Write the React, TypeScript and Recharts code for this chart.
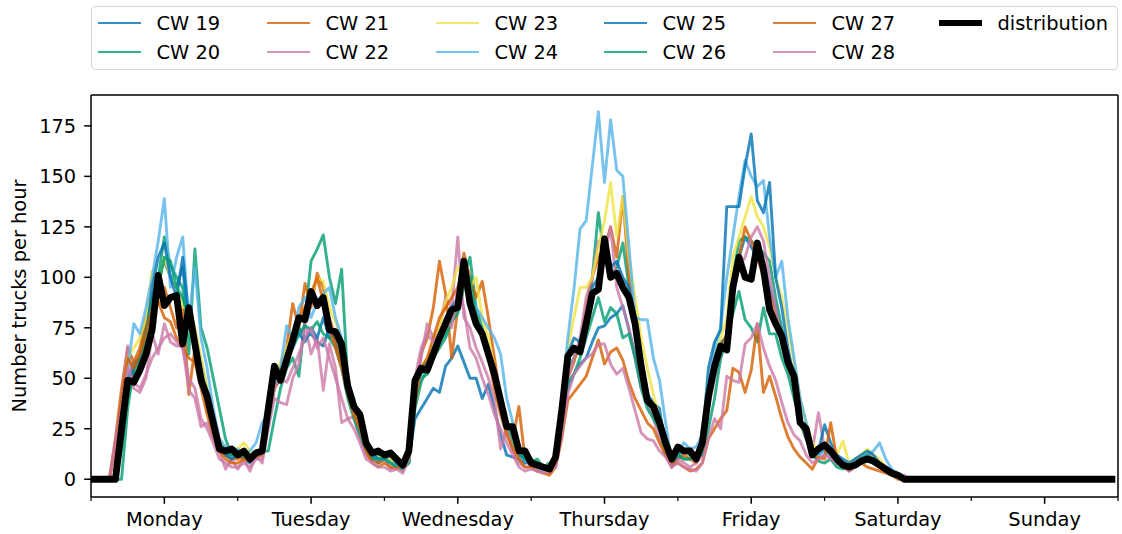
import { LineChart, Line, XAxis, YAxis, ReferenceLine } from 'recharts';

const FONT = '"DejaVu Sans", sans-serif';

const DAYS = ['Monday', 'Tuesday', 'Wednesday', 'Thursday', 'Friday', 'Saturday', 'Sunday'];
const X_TICKS = [0, 12, 24, 36, 48, 60, 72, 84, 96, 108, 120, 132, 144, 156, 168];
const Y_TICKS = [0, 25, 50, 75, 100, 125, 150, 175];
const Y_DOMAIN = [-8.8, 190.3];
const X_DOMAIN = [0, 168];

const SUNDAY = [0, 0, 0, 0, 0, 0, 0, 0, 0, 0, 0, 0, 0, 0, 0, 0, 0, 0, 0, 0, 0, 0, 0, 0];

// hourly values, one line per day (Mon..Sat), Sunday is empty
const CW19 = [
  0, 0, 0, 0, 0, 22, 50, 58, 60, 75, 90, 100, 108, 100, 95, 105, 75, 72, 58, 44, 30, 18, 13, 12,
  12, 10, 8, 12, 14, 30, 48, 55, 62, 66, 75, 70, 72, 68, 66, 75, 68, 60, 45, 35, 28, 15, 10, 8,
  10, 8, 8, 6, 10, 30, 35, 40, 45, 43, 56, 60, 66, 58, 50, 50, 40, 47, 35, 22, 12, 11, 10, 8,
  8, 6, 5, 5, 8, 28, 45, 52, 57, 60, 68, 75, 76, 80, 82, 86, 74, 62, 50, 42, 38, 35, 15, 6,
  10, 14, 12, 10, 18, 40, 60, 68, 70, 95, 110, 120, 115, 110, 108, 95, 85, 72, 60, 50, 30, 22, 14, 12,
  15, 12, 10, 8, 6, 8, 10, 12, 10, 8, 5, 3, 2, 0, 0, 0, 0, 0, 0, 0, 0, 0, 0, 0,
  ...SUNDAY,
];
const CW20 = [
  0, 0, 0, 0, 0, 0, 35, 55, 60, 78, 90, 100, 120, 106, 100, 95, 62, 114, 75, 65, 50, 35, 20, 12,
  12, 10, 12, 10, 14, 14, 30, 45, 55, 60, 51, 80, 108, 114, 121, 100, 87, 104, 49, 40, 25, 15, 10, 12,
  12, 10, 8, 6, 8, 40, 50, 52, 60, 68, 72, 80, 85, 100, 110, 85, 75, 62, 50, 38, 25, 18, 12, 10,
  10, 8, 6, 8, 10, 30, 55, 60, 65, 80, 100, 132, 110, 100, 105, 117, 95, 78, 58, 42, 35, 25, 15, 8,
  12, 10, 10, 12, 15, 40, 55, 65, 72, 100, 118, 120, 118, 115, 112, 108, 90, 75, 60, 50, 28, 20, 12, 15,
  14, 12, 8, 6, 5, 7, 8, 9, 8, 6, 4, 3, 2, 0, 0, 0, 0, 0, 0, 0, 0, 0, 0, 0,
  ...SUNDAY,
];
const CW21 = [
  0, 0, 0, 0, 20, 45, 65, 58, 65, 80, 75, 90, 95, 85, 75, 85, 42, 65, 50, 35, 25, 15, 12, 10,
  10, 12, 10, 12, 15, 35, 50, 55, 65, 87, 75, 97, 85, 102, 95, 80, 70, 58, 45, 35, 28, 15, 10, 8,
  10, 8, 6, 8, 12, 40, 62, 70, 85, 108, 92, 60, 85, 112, 100, 90, 98, 80, 60, 40, 25, 20, 36, 10,
  8, 6, 5, 4, 8, 30, 50, 58, 68, 85, 100, 110, 115, 125, 110, 140, 100, 80, 58, 42, 32, 25, 12, 6,
  10, 12, 10, 8, 15, 40, 55, 65, 72, 95, 110, 125, 118, 110, 100, 92, 80, 70, 58, 48, 28, 20, 12, 10,
  12, 15, 8, 6, 5, 7, 9, 12, 10, 6, 4, 2, 2, 0, 0, 0, 0, 0, 0, 0, 0, 0, 0, 0,
  ...SUNDAY,
];
const CW22 = [
  0, 0, 0, 0, 20, 40, 66, 45, 43, 50, 72, 62, 77, 68, 66, 66, 44, 40, 26, 28, 20, 14, 5, 10,
  5, 10, 4, 12, 8, 25, 40, 38, 37, 50, 57, 77, 62, 70, 44, 67, 55, 28, 30, 31, 20, 12, 9, 10,
  10, 5, 8, 4, 12, 45, 60, 77, 70, 75, 90, 85, 120, 80, 75, 65, 58, 50, 40, 15, 25, 14, 8, 6,
  6, 4, 5, 3, 8, 30, 50, 60, 70, 90, 100, 118, 110, 125, 95, 85, 75, 60, 45, 38, 30, 20, 12, 6,
  10, 8, 6, 8, 12, 35, 50, 60, 70, 90, 105, 110, 120, 125, 118, 100, 85, 70, 55, 45, 30, 20, 14, 33,
  15, 10, 8, 8, 6, 7, 9, 10, 8, 6, 5, 3, 2, 2, 0, 0, 0, 0, 0, 0, 0, 0, 0, 0,
  ...SUNDAY,
];
const CW23 = [
  0, 0, 0, 0, 0, 30, 60, 65, 70, 80, 103, 95, 110, 100, 95, 85, 85, 75, 60, 45, 30, 20, 15, 15,
  15, 18, 14, 12, 15, 35, 50, 58, 65, 72, 80, 85, 90, 100, 98, 85, 78, 69, 50, 38, 30, 18, 12, 10,
  12, 10, 8, 7, 10, 45, 55, 60, 68, 75, 88, 95, 105, 100, 95, 100, 80, 70, 55, 40, 28, 20, 12, 10,
  8, 6, 5, 5, 10, 40, 65, 80, 95, 95, 100, 115, 128, 147, 120, 140, 110, 90, 70, 55, 42, 30, 20, 10,
  12, 14, 12, 10, 18, 45, 60, 70, 80, 110, 120, 130, 140, 130, 125, 115, 100, 90, 75, 58, 40, 28, 18, 14,
  16, 14, 12, 19, 8, 10, 12, 15, 12, 10, 6, 4, 3, 0, 0, 0, 0, 0, 0, 0, 0, 0, 0, 0,
  ...SUNDAY,
];
const CW24 = [
  0, 0, 0, 0, 0, 30, 55, 77, 72, 85, 100, 118, 139, 95, 110, 120, 78, 105, 70, 55, 35, 20, 16, 15,
  15, 12, 14, 18, 28, 32, 48, 55, 76, 70, 85, 90, 80, 88, 92, 95, 80, 70, 50, 38, 28, 16, 12, 10,
  10, 8, 7, 6, 10, 40, 52, 58, 65, 72, 78, 82, 88, 98, 92, 85, 80, 75, 70, 62, 40, 28, 15, 10,
  8, 6, 4, 5, 12, 40, 70, 94, 124, 128, 155, 182, 147, 178, 153, 150, 115, 80, 79, 79, 60, 49, 28, 8,
  14, 18, 15, 16, 22, 45, 65, 75, 100, 120, 140, 158, 150, 145, 148, 120, 100, 108, 80, 60, 40, 28, 15, 12,
  14, 12, 10, 8, 6, 8, 10, 12, 14, 18, 10, 5, 3, 0, 0, 0, 0, 0, 0, 0, 0, 0, 0, 0,
  ...SUNDAY,
];
const CW25 = [
  0, 0, 0, 0, 0, 20, 45, 55, 60, 70, 95, 110, 117, 100, 90, 110, 80, 70, 55, 40, 28, 15, 12, 10,
  12, 12, 10, 12, 13, 32, 50, 52, 60, 65, 72, 68, 75, 70, 80, 70, 72, 62, 48, 38, 30, 16, 12, 10,
  10, 12, 8, 6, 12, 45, 55, 58, 62, 68, 80, 85, 90, 102, 88, 80, 72, 65, 50, 40, 28, 22, 12, 10,
  8, 6, 5, 5, 10, 35, 62, 70, 68, 80, 95, 100, 120, 105, 108, 100, 95, 80, 60, 42, 36, 30, 18, 8,
  12, 15, 12, 12, 20, 55, 68, 74, 135, 135, 135, 155, 171, 138, 132, 147, 100, 85, 65, 50, 30, 20, 12, 14,
  27, 18, 12, 10, 8, 10, 12, 14, 12, 8, 5, 3, 2, 0, 0, 0, 0, 0, 0, 0, 0, 0, 0, 0,
  ...SUNDAY,
];
const CW26 = [
  0, 0, 0, 0, 0, 15, 40, 52, 58, 70, 88, 95, 110, 108, 95, 90, 80, 68, 52, 42, 30, 18, 14, 12,
  12, 12, 10, 14, 12, 28, 45, 50, 58, 66, 72, 76, 74, 78, 72, 70, 65, 55, 40, 30, 22, 14, 10, 10,
  10, 8, 6, 5, 8, 35, 48, 55, 60, 65, 70, 78, 82, 95, 100, 80, 70, 60, 48, 36, 28, 20, 14, 10,
  8, 10, 6, 5, 10, 30, 48, 52, 60, 70, 80, 90, 78, 85, 82, 70, 72, 60, 45, 35, 30, 25, 12, 8,
  12, 10, 10, 12, 12, 25, 40, 60, 70, 82, 93, 79, 75, 68, 85, 72, 72, 60, 52, 40, 30, 22, 12, 9,
  8, 10, 6, 5, 6, 8, 10, 12, 8, 6, 4, 3, 2, 0, 0, 0, 0, 0, 0, 0, 0, 0, 0, 0,
  ...SUNDAY,
];
const CW27 = [
  0, 0, 0, 0, 15, 40, 60, 55, 62, 72, 85, 88, 80, 78, 70, 65, 60, 58, 45, 32, 22, 14, 10, 8,
  8, 10, 9, 11, 12, 30, 45, 50, 58, 70, 80, 85, 92, 100, 88, 75, 65, 55, 42, 32, 25, 14, 8, 6,
  8, 6, 5, 7, 10, 38, 55, 60, 70, 80, 85, 90, 95, 105, 90, 80, 70, 60, 45, 32, 22, 15, 10, 6,
  6, 4, 3, 2, 6, 20, 39, 43, 47, 51, 60, 69, 57, 63, 65, 59, 48, 40, 34, 28, 25, 18, 12, 8,
  8, 6, 4, 5, 8, 20, 25, 30, 34, 55, 53, 43, 54, 77, 43, 51, 41, 30, 21, 15, 11, 8, 5, 11,
  10, 28, 10, 8, 4, 6, 8, 6, 5, 4, 3, 2, 0, 0, 0, 0, 0, 0, 0, 0, 0, 0, 0, 0,
  ...SUNDAY,
];
const CW28 = [
  0, 0, 0, 0, 15, 35, 55, 48, 45, 52, 60, 65, 70, 72, 68, 65, 50, 45, 30, 25, 18, 10, 8, 6,
  6, 8, 6, 10, 10, 28, 45, 50, 48, 55, 62, 70, 75, 65, 70, 60, 50, 40, 30, 25, 18, 10, 8, 6,
  6, 4, 5, 3, 10, 50, 65, 72, 68, 72, 80, 75, 95, 85, 65, 60, 50, 42, 32, 25, 18, 12, 6, 4,
  5, 4, 3, 4, 6, 22, 42, 52, 56, 60, 62, 67, 67, 57, 52, 55, 45, 34, 23, 20, 19, 14, 11, 6,
  8, 6, 5, 4, 8, 20, 30, 25, 51, 49, 48, 67, 70, 77, 65, 56, 49, 38, 28, 22, 19, 12, 8, 10,
  12, 10, 8, 6, 4, 6, 8, 10, 8, 6, 4, 3, 2, 0, 0, 0, 0, 0, 0, 0, 0, 0, 0, 0,
  ...SUNDAY,
];
const DISTRIBUTION = [
  0, 0, 0, 0, 0, 25, 49, 48, 54, 62, 74, 101, 86, 90, 91, 67, 85, 67, 49, 41, 28, 15, 14, 15,
  12, 14, 10, 13, 14, 35, 56, 49, 59, 69, 80, 79, 93, 86, 90, 74, 73, 67, 46, 36, 32, 18, 13, 14,
  12, 13, 10, 7, 14, 49, 55, 54, 62, 70, 77, 84, 85, 108, 87, 77, 72, 62, 52, 39, 26, 26, 14, 14,
  8, 7, 6, 5, 11, 34, 61, 65, 63, 77, 92, 94, 119, 100, 102, 95, 90, 77, 56, 39, 36, 28, 18, 10,
  16, 14, 14, 10, 18, 41, 56, 66, 64, 95, 110, 100, 99, 117, 104, 84, 77, 71, 58, 51, 28, 25, 12, 15,
  17, 14, 10, 7, 6, 7, 9, 10, 9, 7, 5, 3, 2, 0, 0, 0, 0, 0, 0, 0, 0, 0, 0, 0,
  ...SUNDAY,
];

const SERIES = [
  { key: 'cw19', name: 'CW 19', values: CW19, color: '#0072B2' },
  { key: 'cw20', name: 'CW 20', values: CW20, color: '#009E73' },
  { key: 'cw21', name: 'CW 21', values: CW21, color: '#D55E00' },
  { key: 'cw22', name: 'CW 22', values: CW22, color: '#CC79A7' },
  { key: 'cw23', name: 'CW 23', values: CW23, color: '#F0E442' },
  { key: 'cw24', name: 'CW 24', values: CW24, color: '#56B4E9' },
  { key: 'cw25', name: 'CW 25', values: CW25, color: '#0072B2' },
  { key: 'cw26', name: 'CW 26', values: CW26, color: '#009E73' },
  { key: 'cw27', name: 'CW 27', values: CW27, color: '#D55E00' },
  { key: 'cw28', name: 'CW 28', values: CW28, color: '#CC79A7' },
];

const data = DISTRIBUTION.map((v, h) => {
  const row: Record<string, number> = { h, dist: v };
  SERIES.forEach((s) => {
    row[s.key] = s.values[h];
  });
  return row;
});

const DayTick = (props: any) => {
  const { x, y, payload } = props;
  const v = payload.value as number;
  const major = v % 24 === 12;
  return (
    <g>
      <line x1={x} x2={x} y1={y} y2={y + (major ? 6.8 : 3.9)} stroke="#000" strokeWidth={major ? 1.5 : 1.2} />
      {major && (
        <text x={x} y={y + 29} textAnchor="middle" fontSize={19.4} fontFamily={FONT} fill="#000">
          {DAYS[(v - 12) / 24]}
        </text>
      )}
    </g>
  );
};

const LEGEND_COLS = [97, 266, 435, 603, 772, 938];
const LEGEND_ROWS = [22, 51];

const LegendBox = () => {
  const items = [
    ...SERIES.map((s) => ({ name: s.name, color: s.color, w: 2.9, op: 0.8 })),
    { name: 'distribution', color: '#000', w: 6.3, op: 1 },
  ];
  return (
    <div
      style={{
        position: 'absolute',
        left: 91,
        top: 6,
        width: 1027,
        height: 64,
        boxSizing: 'border-box',
        border: '1.3px solid #d6d6d6',
        borderRadius: 4,
        background: 'rgba(255,255,255,0.8)',
      }}
    >
      {items.map((it, i) => (
        <div
          key={it.name}
          style={{
            position: 'absolute',
            left: LEGEND_COLS[Math.floor(i / 2)] - 91,
            top: LEGEND_ROWS[i % 2] - 6 - 12,
            height: 24,
            display: 'flex',
            alignItems: 'center',
            fontFamily: FONT,
            fontSize: 19.4,
            color: '#000',
            whiteSpace: 'nowrap',
          }}
        >
          <div style={{ width: 43, height: it.w, background: it.color, opacity: it.op, marginRight: 15.5 }} />
          <span>{it.name}</span>
        </div>
      ))}
    </div>
  );
};

export default function App() {
  return (
    <div style={{ position: 'absolute', left: 0, top: 0, width: 1122, height: 534, background: '#fff' }}>
      <LineChart width={1122} height={534} data={data} margin={{ top: 95, right: 4, bottom: 0, left: 0 }}>
        <XAxis
          dataKey="h"
          type="number"
          domain={X_DOMAIN}
          ticks={X_TICKS}
          interval={0}
          allowDataOverflow
          height={37}
          tickSize={0}
          tickMargin={0}
          tickLine={false}
          axisLine={{ stroke: '#000', strokeWidth: 1.5 }}
          tick={<DayTick />}
        />
        <YAxis
          type="number"
          domain={Y_DOMAIN}
          ticks={Y_TICKS}
          interval={0}
          allowDataOverflow
          width={91}
          tickSize={6.8}
          tickMargin={8}
          tickLine={{ stroke: '#000', strokeWidth: 1.5 }}
          axisLine={{ stroke: '#000', strokeWidth: 1.5 }}
          tick={{ fontSize: 19.4, fill: '#000', fontFamily: FONT }}
          label={{
            content: () => (
              <text
                x={25.5}
                y={296}
                transform="rotate(-90, 25.5, 296)"
                textAnchor="middle"
                fontSize={19.4}
                fontFamily={FONT}
                fill="#000"
              >
                Number trucks per hour
              </text>
            ),
          }}
        />
        {/* top and right spines */}
        <ReferenceLine y={Y_DOMAIN[1]} stroke="#000" strokeWidth={1.5} ifOverflow="extendDomain" />
        <ReferenceLine x={X_DOMAIN[1]} stroke="#000" strokeWidth={1.5} ifOverflow="extendDomain" />
        {SERIES.map((s) => (
          <Line
            key={s.key}
            dataKey={s.key}
            type="linear"
            stroke={s.color}
            strokeOpacity={0.8}
            strokeWidth={2.9}
            strokeLinejoin="round"
            strokeLinecap="square"
            dot={false}
            activeDot={false}
            isAnimationActive={false}
          />
        ))}
        <Line
          dataKey="dist"
          type="linear"
          stroke="#000"
          strokeWidth={6.8}
          strokeLinejoin="round"
          strokeLinecap="square"
          dot={false}
          activeDot={false}
          isAnimationActive={false}
        />
      </LineChart>
      <LegendBox />
    </div>
  );
}
